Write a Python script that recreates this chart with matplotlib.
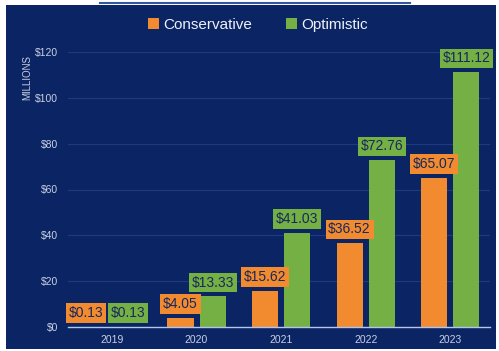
import matplotlib
matplotlib.use("Agg")
import matplotlib.pyplot as plt
import numpy as np
from matplotlib.patches import Rectangle
from matplotlib.lines import Line2D

# data
years = ["2019", "2020", "2021", "2022", "2023"]
conservative = [0.13, 4.05, 15.62, 36.52, 65.07]
optimistic = [0.13, 13.33, 41.03, 72.76, 111.12]
yticks = [0, 20, 40, 60, 80, 100, 120]
series_names = ["Conservative", "Optimistic"]

NAVY = "#0b2463"
ORANGE = "#f28a30"
GREEN = "#74b043"
LABEL_TXT = "#17285e"
LIGHT = "#c9d0e3"

W, H = 499, 351
fig = plt.figure(figsize=(W / 100, H / 100), dpi=100)
fig.patch.set_facecolor("white")

# dark panel behind the chart
fig.patches.append(Rectangle((6 / W, 1 - 349 / H), 490 / W, 344 / H,
                             transform=fig.transFigure, facecolor=NAVY,
                             edgecolor="none", zorder=-10))
# cut-off title underline at the very top
fig.lines.append(Line2D([100 / W, 410 / W], [1 - 2.5 / H, 1 - 2.5 / H],
                        transform=fig.transFigure, color="#3556a5", lw=1.5))

ax = fig.add_axes([68 / W, 24 / H, 422 / W, 275 / H])
ax.set_facecolor("none")

x = np.arange(len(years))
bw = 0.31
off = 0.19
ax.bar(x - off, conservative, bw, color=ORANGE, zorder=3, label=series_names[0])
ax.bar(x + off, optimistic, bw, color=GREEN, zorder=3, label=series_names[1])

ax.set_xlim(-0.52, 4.47)
ax.set_ylim(0, 120)
ax.set_yticks(yticks)
ax.set_yticklabels(["$%d" % v for v in yticks])
ax.set_xticks(x)
ax.set_xticklabels(years)
ax.tick_params(axis="both", length=0, colors=LIGHT, labelsize=7.5)
ax.tick_params(axis="y", pad=7)
ax.tick_params(axis="x", pad=6)
for lab in ax.get_xticklabels() + ax.get_yticklabels():
    lab.set_fontfamily("Liberation Sans")

ax.grid(axis="y", color="#1f3b80", lw=0.8, zorder=0)
for s in ["top", "right", "left"]:
    ax.spines[s].set_visible(False)
ax.spines["bottom"].set_color("#b3c6ee")
ax.spines["bottom"].set_linewidth(1.0)
ax.spines["bottom"].set_zorder(4)

# value labels
shift = {0: (-0.12, 0.0)}
for i in range(len(years)):
    dx_c, dx_o = shift.get(i, (0.0, 0.0))
    for val, xpos, col in [(conservative[i], x[i] - off + dx_c, ORANGE),
                           (optimistic[i], x[i] + off + dx_o, GREEN)]:
        ax.annotate("$%.2f" % val, (xpos, val), xytext=(0, 5),
                    textcoords="offset points", ha="center", va="bottom",
                    fontsize=10, family="Liberation Sans", color=LABEL_TXT,
                    zorder=5, annotation_clip=False,
                    bbox=dict(boxstyle="square,pad=0.2", fc=col, ec="none"))

fig.text(27 / W, 1 - 77 / H, "MILLIONS", rotation=90, ha="center", va="center",
         fontsize=7, color=LIGHT, family="Liberation Sans")

leg = fig.legend(loc="center", bbox_to_anchor=(258 / W, 1 - 25 / H), ncol=2,
                 frameon=False, handlelength=0.7, handleheight=0.7,
                 handletextpad=0.3, columnspacing=2.2,
                 prop={"family": "Liberation Sans", "size": 11})
for t in leg.get_texts():
    t.set_color("#eef1f8")

fig.savefig("out.png", dpi=100, facecolor="white")
